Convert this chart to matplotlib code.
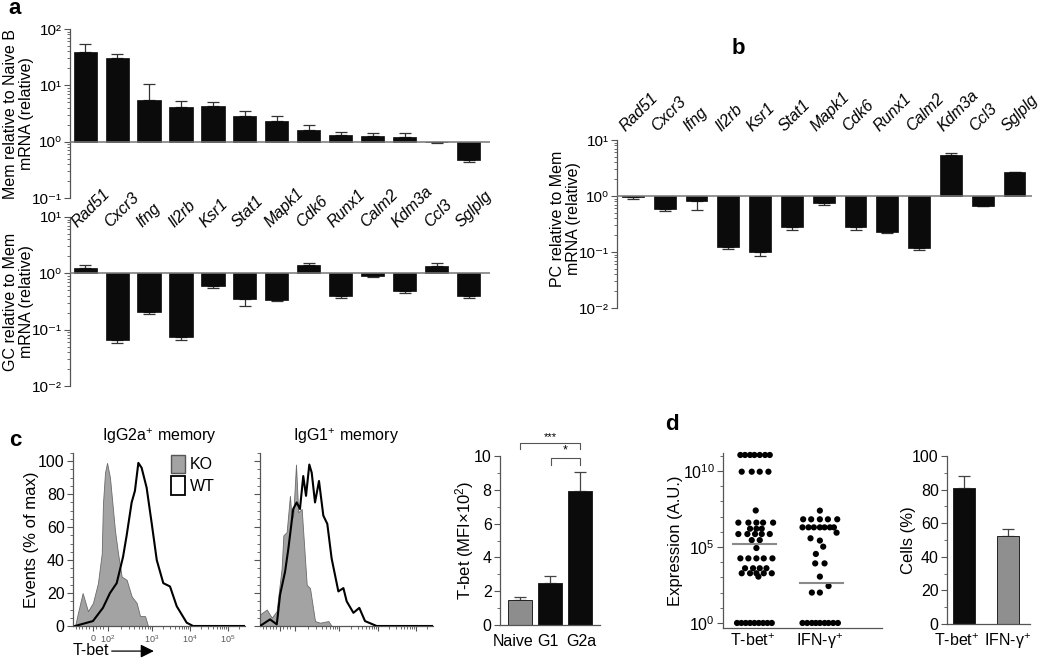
import numpy as np
import matplotlib
matplotlib.use("Agg")
import matplotlib.pyplot as plt
import matplotlib.transforms as mtransforms
from matplotlib.patches import Patch
from matplotlib.ticker import LogLocator, FixedLocator, MultipleLocator, NullFormatter, FuncFormatter

plt.rcParams['font.family'] = ['Liberation Sans', 'DejaVu Sans']
plt.rcParams['mathtext.fontset'] = 'custom'
plt.rcParams['mathtext.rm'] = 'Liberation Sans'
plt.rcParams['mathtext.it'] = 'Liberation Sans:italic'
plt.rcParams['mathtext.bf'] = 'Liberation Sans:bold'

# ---- data ----
genes = ["Rad51", "Cxcr3", "Ifng", "Il2rb", "Ksr1", "Stat1", "Mapk1",
         "Cdk6", "Runx1", "Calm2", "Kdm3a", "Ccl3", "Sglplg"]
mem_vs_naive = [39, 31, 5.5, 4.2, 4.3, 2.9, 2.35, 1.6, 1.3, 1.27, 1.2, 0.97, 0.48]
mem_vs_naive_tip = [54, 36, 10.6, 5.3, 5.1, 3.5, 2.9, 2.0, 1.5, 1.4, 1.4, 0.95, 0.44]
gc_vs_mem = [1.23, 0.065, 0.21, 0.074, 0.59, 0.35, 0.33, 1.43, 0.39, 0.88, 0.48, 1.35, 0.39]
gc_vs_mem_tip = [1.38, 0.058, 0.19, 0.065, 0.54, 0.26, 0.32, 1.53, 0.37, 0.85, 0.45, 1.5, 0.37]
pc_vs_mem = [0.97, 0.59, 0.81, 0.123, 0.10, 0.28, 0.75, 0.28, 0.23, 0.118, 5.4, 0.66, 2.7]
pc_vs_mem_tip = [0.87, 0.54, 0.56, 0.115, 0.085, 0.245, 0.69, 0.245, 0.215, 0.108, 5.9, 0.65, 2.7]

# histograms: x in % of axis width, y in % of max
g2a_ko_x = [1.2, 2.9, 5.6, 8.7, 11.6, 14.5, 16.7, 17.4, 18.6, 19.8, 21.5, 24.4, 26.2,
            28.3, 31.2, 34.1, 37.0, 39.0, 41.9, 43.6]
g2a_ko_y = [0, 8, 20, 9, 14, 26, 44, 74, 93, 99, 90, 58, 44, 30, 28, 18, 14, 6, 6, 0]
g2a_wt_x = [1.2, 11.6, 17.4, 21.5, 25.4, 29.1, 31.2, 34.1, 36.0, 38.0, 39.9, 42.8,
            45.8, 48.7, 52.5, 56.4, 60.3, 66.1, 69.8, 100]
g2a_wt_y = [0, 3, 11, 20, 26, 42, 55, 75, 82, 99, 96, 84, 62, 40, 26, 24, 12, 2, 0, 0]
g1_ko_x = [0, 3.9, 6.8, 9.6, 12.5, 13.5, 15.4, 17.3, 18.3, 19.2, 20.8, 22.1, 24.1,
           27.0, 28.9, 31.8, 34.7, 39.5, 41.4]
g1_ko_y = [7, 10, 5, 9, 35, 55, 57, 79, 65, 67, 98, 69, 71, 25, 23, 3, 2, 3, 0]
g1_wt_x = [0, 5.8, 9.7, 11.6, 14.5, 16.4, 19.2, 21.2, 23.1, 25.0, 26.6, 28.5, 29.9,
           31.8, 34.1, 36.6, 38.9, 41.4, 45.3, 48.2, 50.1, 54.0, 57.4, 60.7, 67.4, 100]
g1_wt_y = [0, 4, 1, 19, 33, 47, 71, 75, 71, 91, 79, 98, 93, 75, 88, 67, 62, 41, 21,
           23, 15, 8, 11, 3, 0, 0]
hist_tick_pos = [11.6, 20.3, 45.9, 68.0, 90.1]
hist_tick_labels = ["0", "10$^2$", "10$^3$", "10$^4$", "10$^5$"]

mfi_groups = ["Naive", "G1", "G2a"]
mfi_vals = [1.48, 2.47, 7.93]
mfi_tip = [1.64, 2.9, 9.05]

# dot plot: rows of (log10 expression, x offsets)
tbet_rows = [(11.05, [-0.19, -0.12, -0.045, 0.02, 0.10, 0.18, 0.25]),
             (9.95, [-0.17, -0.02, 0.10, 0.23]),
             (7.4, [0.04]),
             (6.6, [-0.22, -0.07, 0.05, 0.15, 0.30]),
             (6.2, [-0.045, 0.05, 0.13]),
             (5.85, [-0.22, -0.085, 0.03, 0.13, 0.25]),
             (5.45, [-0.02, 0.10]),
             (4.93, [0.05]),
             (4.25, [-0.19, -0.07, 0.05, 0.16, 0.29]),
             (3.6, [-0.12, 0.0, 0.10, 0.20]),
             (3.27, [-0.17, -0.045, 0.05, 0.16, 0.28]),
             (3.05, [0.08]),
             (0.0, [-0.24, -0.175, -0.11, -0.045, 0.02, 0.085, 0.15, 0.215, 0.28])]
ifng_rows = [(7.39, [0.0]),
             (6.82, [-0.25, -0.13, 0.0, 0.12, 0.26]),
             (6.29, [-0.26, -0.17, -0.09, 0.0, 0.07, 0.15, 0.21]),
             (5.94, [0.25]),
             (5.57, [-0.14]),
             (5.42, [0.0]),
             (5.02, [0.05]),
             (4.54, [-0.06]),
             (3.92, [-0.07, 0.07]),
             (3.05, [0.0]),
             (2.43, [0.13]),
             (2.0, [-0.12, 0.0]),
             (0.0, [-0.26, -0.19, -0.12, -0.06, 0.0, 0.07, 0.13, 0.2, 0.27])]
dot_groups = ["T-bet$^{+}$", "IFN-γ$^{+}$"]
dot_medians = [5.2, 2.6]

cells_groups = ["T-bet$^{+}$", "IFN-γ$^{+}$"]
cells_vals = [81, 52.4]
cells_tip = [88, 56.4]

# ---- layout helpers ----
W, H = 1050, 658
BLACK = '#0b0b0b'
AX = '#555555'
GREY = '#a3a3a3'
SUP = str.maketrans("-0123456789", "⁻⁰¹²³⁴⁵⁶⁷⁸⁹")


def box(l, t, r, b):
    return [l / W, 1 - b / H, (r - l) / W, (b - t) / H]


def pow10(v, pos=None):
    return "10" + str(int(round(np.log10(v)))).translate(SUP)


def style_axes(ax, bottom=True, labelsize=11.5):
    for s in ['top', 'right']:
        ax.spines[s].set_visible(False)
    ax.spines['bottom'].set_visible(bottom)
    for s in ['left', 'bottom']:
        ax.spines[s].set_color(AX)
        ax.spines[s].set_linewidth(0.9)
    ax.tick_params(which='major', length=4, width=0.8, color=AX, labelsize=labelsize, pad=2)
    ax.tick_params(which='minor', length=2.2, width=0.6, color=AX)


def log_bars(ax, vals, tips, width):
    x = np.arange(len(vals))
    v = np.array(vals, dtype=float)
    t = np.array(tips, dtype=float)
    ax.set_yscale('log')
    ax.bar(x, v - 1, bottom=1, width=width, color=BLACK, edgecolor=BLACK, lw=0.5, zorder=2)
    lower = np.where(t < v, v - t, 0)
    upper = np.where(t > v, t - v, 0)
    ax.errorbar(x, v, yerr=[lower, upper], fmt='none', ecolor='#333333',
                elinewidth=0.9, capsize=4.5, capthick=0.9, zorder=1)
    ax.axhline(1, color='#777777', lw=1.1, zorder=3)
    style_axes(ax, bottom=False, labelsize=11)
    ax.set_xticks([])
    ax.yaxis.set_major_locator(LogLocator(base=10, numticks=10))
    ax.yaxis.set_major_formatter(FuncFormatter(pow10))
    ax.yaxis.set_minor_locator(LogLocator(base=10, subs=np.arange(2, 10), numticks=10))
    ax.yaxis.set_minor_formatter(NullFormatter())


def gene_labels(ax, yfrac, dx):
    tr = mtransforms.blended_transform_factory(ax.transData, ax.transAxes)
    for i, g in enumerate(genes):
        ax.text(i + dx, yfrac, g, transform=tr, rotation=45, ha='left', va='baseline',
                rotation_mode='anchor', style='italic', fontsize=11.5, clip_on=False)


def group_labels(ax, xs, labels, y_px_below):
    # category names written under the axis like a line of text
    tr = mtransforms.offset_copy(ax.get_xaxis_transform(), fig=ax.figure, x=0,
                                 y=-y_px_below, units='dots')
    for xv, lab in zip(xs, labels):
        ax.text(xv, 0, lab, transform=tr, ha='center', va='center', fontsize=11.5)


fig = plt.figure(figsize=(10.5, 6.58), dpi=100)

# ---- panel a ----
ax_a1 = fig.add_axes(box(70, 29, 490, 198))
log_bars(ax_a1, mem_vs_naive, mem_vs_naive_tip, 0.72)
ax_a1.set_ylim(0.1, 100)
ax_a1.set_xlim(-0.47, 12.66)
ax_a1.set_ylabel("Mem relative to Naive B\nmRNA (relative)", fontsize=11.5, linespacing=1.1)
ax_a1.yaxis.set_label_coords(-0.085, 0.5)

ax_a2 = fig.add_axes(box(70, 217, 490, 386))
log_bars(ax_a2, gc_vs_mem, gc_vs_mem_tip, 0.72)
ax_a2.set_ylim(0.01, 10)
ax_a2.set_xlim(-0.47, 12.66)
ax_a2.set_ylabel("GC relative to Mem\nmRNA (relative)", fontsize=11.5, linespacing=1.1)
ax_a2.yaxis.set_label_coords(-0.085, 0.5)
gene_labels(ax_a2, 0.935, -0.22)

# ---- panel b ----
ax_b = fig.add_axes(box(617, 140, 1032, 308))
log_bars(ax_b, pc_vs_mem, pc_vs_mem_tip, 0.68)
ax_b.set_ylim(0.01, 10)
ax_b.set_xlim(-0.5, 12.55)
ax_b.set_ylabel("PC relative to Mem\nmRNA (relative)", fontsize=11.5, linespacing=1.1)
ax_b.yaxis.set_label_coords(-0.086, 0.53)
gene_labels(ax_b, 1.048, -0.23)

# ---- panel c: histograms ----
dec = hist_tick_pos[1:]
hist_minor = []
for d0, d1 in zip(dec[:-1], dec[1:]):
    hist_minor += [d0 + np.log10(k) * (d1 - d0) for k in range(2, 10)]
hist_minor += [dec[-1] + np.log10(k) * (dec[-1] - dec[-2]) for k in range(2, 5)]
hist_minor += [1.5, 3.5, 5.5, 7.5, 9.5, 13.5, 15.5, 17.5]

for k, (l, r, kx, ky, wx, wy, title) in enumerate([
        (73, 245, g2a_ko_x, g2a_ko_y, g2a_wt_x, g2a_wt_y, "IgG2a$^{+}$ memory"),
        (260, 433, g1_ko_x, g1_ko_y, g1_wt_x, g1_wt_y, "IgG1$^{+}$ memory")]):
    ax = fig.add_axes(box(l, 453, r, 626))
    ax.fill_between(kx, ky, color=GREY, edgecolor='#6a6a6a', lw=0.6, zorder=2)
    ax.plot(wx, wy, color='black', lw=1.5, zorder=3)
    ax.set_xlim(0, 100)
    ax.set_ylim(0, 105)
    style_axes(ax)
    ax.yaxis.set_major_locator(MultipleLocator(20))
    ax.yaxis.set_minor_locator(MultipleLocator(5))
    ax.xaxis.set_major_locator(FixedLocator(hist_tick_pos))
    ax.xaxis.set_minor_locator(FixedLocator(hist_minor))
    ax.tick_params(axis='x', which='major', length=3.5, labelsize=6.5, labelcolor='#555555', pad=2)
    ax.tick_params(axis='x', which='minor', length=2)
    ax.set_title(title, fontsize=11.5, pad=9)
    if k == 0:
        ax.set_xticklabels(hist_tick_labels)
        ax.set_ylabel("Events (% of max)", fontsize=12)
        ax.yaxis.set_label_coords(-0.2, 0.5)
        ax.text(0, -0.17, "T-bet", transform=ax.transAxes, ha='left', va='baseline', fontsize=11.5)
        ax.annotate('', xy=(0.47, -0.145), xytext=(0.225, -0.145), xycoords='axes fraction',
                    arrowprops=dict(arrowstyle='-|>', color='black', lw=0.9,
                                    mutation_scale=20, shrinkA=0, shrinkB=0),
                    annotation_clip=False)
        handles = [Patch(facecolor=GREY, edgecolor='#555555', label='KO'),
                   Patch(facecolor='white', edgecolor='black', lw=1.3, label='WT')]
        ax.legend(handles=handles, loc='upper left', bbox_to_anchor=(0.57, 0.99), frameon=False,
                  handlelength=0.9, handleheight=1.4, handletextpad=0.3, labelspacing=0.2,
                  fontsize=11.5, borderaxespad=0, borderpad=0)
    else:
        ax.set_xticklabels([])
        ax.set_yticklabels([])

# ---- panel c: MFI bars ----
ax_c = fig.add_axes(box(500, 456, 600, 625))
xc = np.arange(len(mfi_vals))
ax_c.bar(xc, mfi_vals, width=0.8, color=['#8d8d8d', BLACK, BLACK], edgecolor='#222222',
         lw=0.7, zorder=2)
ax_c.errorbar(xc, mfi_vals, yerr=[np.zeros(3), np.array(mfi_tip) - np.array(mfi_vals)],
              fmt='none', ecolor='#444444', elinewidth=0.9, capsize=4.5, capthick=0.9, zorder=1)
ax_c.set_xlim(-0.67, 2.67)
ax_c.set_ylim(0, 10)
style_axes(ax_c)
ax_c.yaxis.set_major_locator(MultipleLocator(2))
ax_c.yaxis.set_minor_locator(MultipleLocator(1))
ax_c.set_xticks([])
group_labels(ax_c, [-0.23, 0.92, 2.05], mfi_groups, 16)
ax_c.set_ylabel("T-bet (MFI×10$^{2}$)", fontsize=12)
ax_c.yaxis.set_label_coords(-0.24, 0.5)
ax_c.plot([0, 0, 2, 2], [10.4, 10.77, 10.77, 10.4], color=AX, lw=0.8, clip_on=False)
ax_c.plot([1.05, 1.05, 2, 2], [9.47, 9.88, 9.88, 9.47], color=AX, lw=0.8, clip_on=False)
ax_c.text(1, 10.85, "***", ha='center', va='bottom', fontsize=8, clip_on=False)
ax_c.text(1.5, 9.95, "*", ha='center', va='bottom', fontsize=9, clip_on=False)

# ---- panel d: dot plot ----
ax_d = fig.add_axes(box(723, 453, 882, 628))
for gx, rows in enumerate([tbet_rows, ifng_rows]):
    xs = [gx + o for lv, offs in rows for o in offs]
    ys = [10 ** lv for lv, offs in rows for o in offs]
    ax_d.scatter(xs, ys, s=20, color='black', edgecolors='none', zorder=2, clip_on=False)
    ax_d.plot([gx - 0.3, gx + 0.35], [10 ** dot_medians[gx]] * 2, color='#8a8a8a', lw=1.5, zorder=3)
ax_d.set_yscale('log')
ax_d.set_ylim(10 ** -0.33, 10 ** 11.18)
ax_d.set_xlim(-0.45, 1.93)
style_axes(ax_d)
ax_d.yaxis.set_major_locator(FixedLocator([1, 1e5, 1e10]))
ax_d.yaxis.set_minor_locator(FixedLocator([10.0 ** k for k in range(1, 12)]))
ax_d.yaxis.set_minor_formatter(NullFormatter())
ax_d.set_yticklabels(["10$^0$", "10$^5$", "10$^{10}$"])
ax_d.set_xticks([])
group_labels(ax_d, [0, 1], dot_groups, 13)
ax_d.set_ylabel("Expression (A.U.)", fontsize=12)
ax_d.yaxis.set_label_coords(-0.25, 0.5)

# ---- panel d: cells bars ----
ax_e = fig.add_axes(box(947, 456, 1030, 624))
xe = np.arange(len(cells_vals))
ax_e.bar(xe, cells_vals, width=0.5, color=[BLACK, '#8f8f8f'], edgecolor='#222222', lw=0.7, zorder=2)
ax_e.errorbar(xe, cells_vals, yerr=[np.zeros(2), np.array(cells_tip) - np.array(cells_vals)],
              fmt='none', ecolor='#444444', elinewidth=0.9, capsize=4.5, capthick=0.9, zorder=1)
ax_e.set_xlim(-0.39, 1.5)
ax_e.set_ylim(0, 100)
style_axes(ax_e)
ax_e.yaxis.set_major_locator(MultipleLocator(20))
ax_e.yaxis.set_minor_locator(MultipleLocator(10))
ax_e.set_xticks([])
group_labels(ax_e, [-0.17, 1.0], cells_groups, 17)
ax_e.set_ylabel("Cells (%)", fontsize=12)
ax_e.yaxis.set_label_coords(-0.37, 0.5)

# ---- panel letters ----
for letter, px, py in [("a", 15, 9), ("b", 738, 48), ("c", 15, 440), ("d", 672, 425)]:
    fig.text(px / W, 1 - py / H, letter, fontsize=16, fontweight='bold', ha='center', va='center')

fig.savefig("out.png", dpi=100)
